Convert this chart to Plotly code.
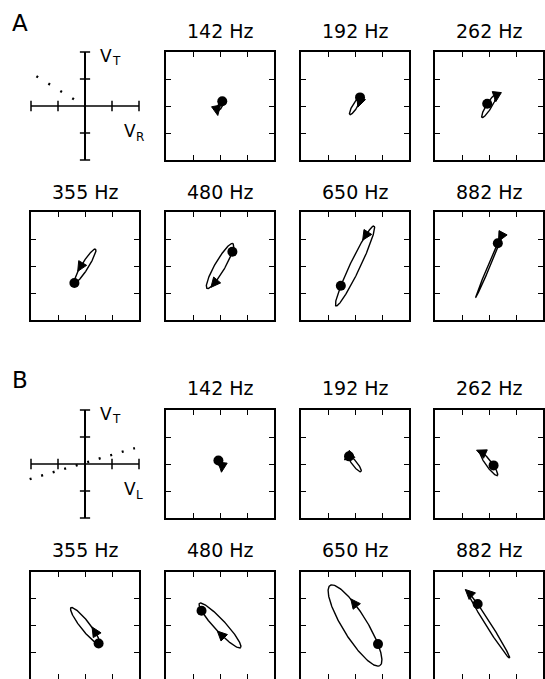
import math
import numpy as np
import plotly.graph_objects as go

W, H = 545, 679

freq_labels = ["142 Hz", "192 Hz", "262 Hz", "355 Hz", "480 Hz", "650 Hz", "882 Hz"]

# Panel A: response orbits in the (V_R, V_T) plane
# ellipse semi-axes, tilt of the major axis (deg), orbit phase of the
# filled dot, orbit phase of the arrowhead, and sense of travel
a_major = [0.20, 0.37, 0.50, 0.74, 0.96, 1.64, 1.27]
a_minor = [0.08, 0.09, 0.10, 0.13, 0.19, 0.19, 0.04]
a_tilt = [60.0, 59.0, 58.5, 58.0, 60.0, 64.5, 67.0]
a_dot_phase = [0.2, 0.05, 1.5, 3.14, -0.77, 2.14, 0.78]
a_arrow_phase = [2.7, -0.9, -0.4, 1.7, 3.98, 0.75, 0.35]
a_sense = [1, -1, -1, 1, -1, 1, 1]

# Panel B: response orbits in the (V_L, V_T) plane
b_major = [0.14, 0.36, 0.53, 0.845, 1.125, 1.76, 1.44]
b_minor = [0.06, 0.09, 0.11, 0.17, 0.21, 0.45, 0.09]
b_tilt = [-65.0, -52.0, -54.0, -52.0, -47.5, -58.5, -58.0]
b_dot_phase = [3.14, 3.14, 1.3, -0.1, -2.45, 0.94, 2.25]
b_arrow_phase = [0.6, 3.14, 2.8, 1.05, -1.3, 1.99, 2.9]
b_sense = [-1, 1, 1, 1, -1, 1, 1]

# dotted reference direction drawn in each axis diagram (end points)
a_line_x = [-1.8, 0.0]
a_line_y = [1.1, 0.0]
b_line_x = [-2.05, 1.85]
b_line_y = [-0.56, 0.59]

cross_ticks = [-2, -1, 1, 2]
box_ticks = [-1, 0, 1]
AX_RANGE = [-2, 2]

# pixel boxes of the 4x4 grid of panels
col_px = [(31, 139), (166, 274), (301, 409), (435, 543)]
row_px = [(52, 160), (212, 320), (410, 518), (572, 679)]
title_y_px = [31, 192, 388, 550]
letter_top_px = [9, 366]

FONT = "DejaVu Sans"
ARROW_LEN = 0.36   # arrowhead length, data units
ARROW_WID = 0.34   # arrowhead base width, data units


def xdom(x0, x1):
    return [max(0, x0 / W), min(1, x1 / W)]


def ydom(y0, y1):
    return [max(0, 1 - y1 / H), min(1, 1 - y0 / H)]


def orbit_point(a, b, tilt, s):
    th = math.radians(tilt)
    u, v = a * np.cos(s), b * np.sin(s)
    return u * math.cos(th) - v * math.sin(th), u * math.sin(th) + v * math.cos(th)


def orbit_tangent(a, b, tilt, s, sense):
    th = math.radians(tilt)
    u, v = -a * math.sin(s) * sense, b * math.cos(s) * sense
    dx = u * math.cos(th) - v * math.sin(th)
    dy = u * math.sin(th) + v * math.cos(th)
    n = math.hypot(dx, dy)
    return dx / n, dy / n


fig = go.Figure()
layout = {}
annotations = []
ax_i = 0


def new_axes(xd, yd, xr, yr, frame):
    global ax_i
    ax_i += 1
    sfx = "" if ax_i == 1 else str(ax_i)
    common = dict(showgrid=False, zeroline=False, showticklabels=False)
    if frame:
        common.update(showline=True, mirror="ticks", linecolor="black", linewidth=1.7,
                      ticks="inside", ticklen=5, tickwidth=1.3, tickcolor="black",
                      tickvals=box_ticks)
    else:
        common.update(visible=False)
    layout["xaxis" + sfx] = dict(domain=xd, range=xr, anchor="y" + sfx, **common)
    layout["yaxis" + sfx] = dict(domain=yd, range=yr, anchor="x" + sfx, **common)
    return "x" + sfx, "y" + sfx


def label(text, x_px, y_px, size, xanchor="left", yanchor="top"):
    annotations.append(dict(text=text, x=x_px / W, y=1 - y_px / H,
                            xref="paper", yref="paper", showarrow=False,
                            xanchor=xanchor, yanchor=yanchor, borderpad=0,
                            font=dict(family=FONT, size=size, color="black")))


groups = [
    dict(letter="A", sub="R", major=a_major, minor=a_minor, tilt=a_tilt,
         dot=a_dot_phase, arrow=a_arrow_phase, sense=a_sense,
         lx=a_line_x, ly=a_line_y, dash="2px,12px", rows=(0, 1)),
    dict(letter="B", sub="L", major=b_major, minor=b_minor, tilt=b_tilt,
         dot=b_dot_phase, arrow=b_arrow_phase, sense=b_sense,
         lx=b_line_x, ly=b_line_y, dash="2px,10px", rows=(2, 3)),
]

s_curve = np.linspace(0, 2 * np.pi, 241)

for gi, g in enumerate(groups):
    r0 = g["rows"][0]
    # axis diagram with the dotted reference direction
    pad = 6
    x0, x1 = col_px[0]
    y0, y1 = row_px[r0]
    ext = 2 + pad / 27.0
    xa, ya = new_axes(xdom(x0 - pad, x1 + pad), ydom(y0 - pad, y1 + pad),
                      [-ext, ext], [-ext, ext], frame=False)
    tk = 0.19
    fig.add_trace(go.Scatter(x=[-2, 2], y=[0, 0], mode="lines",
                             line=dict(color="black", width=1.3),
                             xaxis=xa, yaxis=ya, showlegend=False, hoverinfo="skip"))
    fig.add_trace(go.Scatter(x=[0, 0], y=[-2, 2], mode="lines",
                             line=dict(color="black", width=2),
                             xaxis=xa, yaxis=ya, showlegend=False, hoverinfo="skip"))
    tx, ty = [], []
    for t in cross_ticks:
        tx += [t, t, None, -tk, tk, None]
        ty += [-tk, tk, None, t, t, None]
    fig.add_trace(go.Scatter(x=tx, y=ty, mode="lines",
                             line=dict(color="black", width=1.5),
                             xaxis=xa, yaxis=ya, showlegend=False, hoverinfo="skip"))
    fig.add_trace(go.Scatter(x=g["lx"], y=g["ly"], mode="lines",
                             line=dict(color="black", width=2.4, dash=g["dash"]),
                             xaxis=xa, yaxis=ya, showlegend=False, hoverinfo="skip"))
    cx = (x0 + x1) / 2
    cy = (y0 + y1) / 2
    # axis names: V with a smaller subscript letter
    label("V", cx + 14, cy - 61, 17)
    label("T", cx + 26, cy - 53, 12)
    label("V", cx + 38, cy + 14, 17)
    label(g["sub"], cx + 50, cy + 23, 12)
    label(g["letter"], 11, letter_top_px[gi], 23)

    for k in range(7):
        slot = k + 1
        row = g["rows"][slot // 4]
        col = slot % 4
        x0, x1 = col_px[col]
        y0, y1 = row_px[row]
        xa, ya = new_axes(xdom(x0, x1), ydom(y0, y1), AX_RANGE, AX_RANGE, frame=True)
        a, b, tilt = g["major"][k], g["minor"][k], g["tilt"][k]
        ex, ey = orbit_point(a, b, tilt, s_curve)
        fig.add_trace(go.Scatter(x=ex, y=ey, mode="lines",
                                 line=dict(color="black", width=1.4),
                                 xaxis=xa, yaxis=ya, showlegend=False, hoverinfo="skip"))
        # arrowhead: filled triangle pointing along the direction of travel
        sa = g["arrow"][k]
        px, py = orbit_point(a, b, tilt, sa)
        dx, dy = orbit_tangent(a, b, tilt, sa, g["sense"][k])
        nx, ny = -dy, dx
        tip = (px + dx * ARROW_LEN * 0.6, py + dy * ARROW_LEN * 0.6)
        bx, by = px - dx * ARROW_LEN * 0.4, py - dy * ARROW_LEN * 0.4
        c1 = (bx + nx * ARROW_WID / 2, by + ny * ARROW_WID / 2)
        c2 = (bx - nx * ARROW_WID / 2, by - ny * ARROW_WID / 2)
        fig.add_trace(go.Scatter(x=[tip[0], c1[0], c2[0], tip[0]],
                                 y=[tip[1], c1[1], c2[1], tip[1]],
                                 mode="lines", fill="toself", fillcolor="black",
                                 line=dict(color="black", width=1),
                                 xaxis=xa, yaxis=ya, showlegend=False, hoverinfo="skip"))
        sd = g["dot"][k]
        qx, qy = orbit_point(a, b, tilt, sd)
        fig.add_trace(go.Scatter(x=[qx], y=[qy], mode="markers",
                                 marker=dict(symbol="circle", size=10, color="black"),
                                 xaxis=xa, yaxis=ya, showlegend=False, hoverinfo="skip"))
        label(freq_labels[k], (x0 + x1) / 2, title_y_px[row], 19,
              xanchor="center", yanchor="middle")

fig.update_layout(
    width=W, height=H,
    margin=dict(l=0, r=0, t=0, b=0),
    paper_bgcolor="white", plot_bgcolor="white",
    annotations=annotations,
    **layout,
)

fig.write_html("out.html")
